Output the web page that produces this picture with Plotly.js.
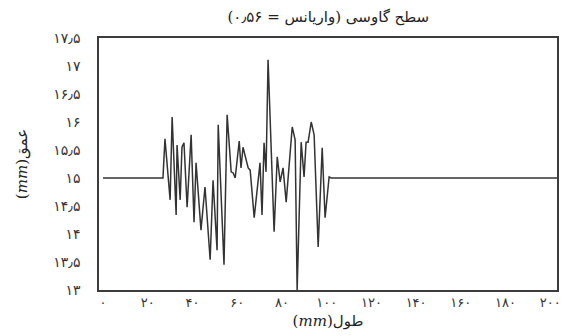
<!DOCTYPE html>
<html><head><meta charset="utf-8">
<script src="https://cdn.plot.ly/plotly-3.0.1.min.js"></script>
<style>html,body{margin:0;padding:0;background:#fff}</style>
</head><body><div id="chart" style="width:573px;height:336px"></div>
<script>
const xPos = [0, 26.8, 27.7, 30.0, 30.9, 32.7, 33.1, 34.5, 35.3, 36.2, 37.6, 39.4, 40.7, 41.6, 43.8, 45.6, 47.9, 49.2, 51.0, 51.5, 54.1, 55.5, 57.3, 58.2, 59.1, 60.9, 61.7, 62.6, 64.9, 65.8, 67.6, 70.2, 71.1, 72.0, 72.9, 73.8, 76.5, 77.9, 79.2, 80.5, 81.9, 84.6, 85.9, 86.8, 88.6, 89.9, 90.8, 91.7, 93.1, 94.4, 96.2, 98.0, 99.3, 101.1, 102, 205];
const depth = [15, 15, 15.70, 14.61, 16.09, 14.34, 15.59, 14.61, 15.55, 15.63, 14.48, 15.77, 14.21, 15.27, 14.07, 14.84, 13.54, 14.96, 13.71, 15.95, 13.45, 16.13, 15.11, 15.09, 15.0, 15.66, 15.18, 15.55, 15.18, 15.14, 14.29, 15.27, 14.34, 15.63, 15.11, 17.11, 14.04, 15.38, 14.93, 15.18, 14.57, 15.91, 15.68, 13.0, 15.64, 15.02, 15.64, 15.64, 16.0, 15.77, 13.77, 15.54, 14.29, 15.02, 15, 15];
const xTickVals = [0, 20, 40, 60, 80, 100, 120, 140, 160, 180, 200];
const xTickText = ['۰', '۲۰', '۴۰', '۶۰', '۸۰', '۱۰۰', '۱۲۰', '۱۴۰', '۱۶۰', '۱۸۰', '۲۰۰'];
const yTickVals = [13, 13.5, 14, 14.5, 15, 15.5, 16, 16.5, 17, 17.5];
const yTickText = ['۱۳', '۱۳٫۵', '۱۴', '۱۴٫۵', '۱۵', '۱۵٫۵', '۱۶', '۱۶٫۵', '۱۷', '۱۷٫۵'];
const titleText = '\u202Bسطح گاوسی (واریانس = ۰٫۵۶)\u202C';
const xTitle = '\u202Bطول(<i>mm</i>)\u202C';
const yTitle = '\u202Bعمق(<i>mm</i>)\u202C';

const font = 'DejaVu Serif, DejaVu Sans, serif';
Plotly.newPlot('chart', [{
  x: xPos, y: depth, type: 'scatter', mode: 'lines',
  line: {color: '#333', width: 1.5}, hoverinfo: 'skip'
}], {
  width: 573, height: 336,
  margin: {l: 99, r: 16, t: 38, b: 46},
  paper_bgcolor: '#fff', plot_bgcolor: '#fff',
  showlegend: false,
  font: {family: font, color: '#333', size: 13},
  title: {text: titleText, x: 0.573, xanchor: 'center', y: 0.95, yanchor: 'middle', font: {family: font, size: 15, color: '#222'}},
  xaxis: {
    range: [-1.8, 203], showgrid: false, zeroline: false,
    showline: true, mirror: 'all', linecolor: '#3c3c3c', linewidth: 1.5,
    tickvals: xTickVals, ticktext: xTickText, ticks: '', ticklabelstandoff: 0,
    tickfont: {size: 13, family: font, color: '#333'},
    title: {text: xTitle, standoff: 6, font: {size: 15, family: font, color: '#222'}}
  },
  yaxis: {
    range: [13, 17.5], showgrid: false, zeroline: false,
    showline: true, mirror: 'all', linecolor: '#3c3c3c', linewidth: 1.5,
    tickvals: yTickVals, ticktext: yTickText, ticks: '', ticklabelstandoff: 14,
    tickfont: {size: 14, family: font, color: '#333'},
    title: {text: yTitle, standoff: 22, font: {size: 15, family: font, color: '#222'}}
  }
}, {displayModeBar: false});
</script></body></html>
